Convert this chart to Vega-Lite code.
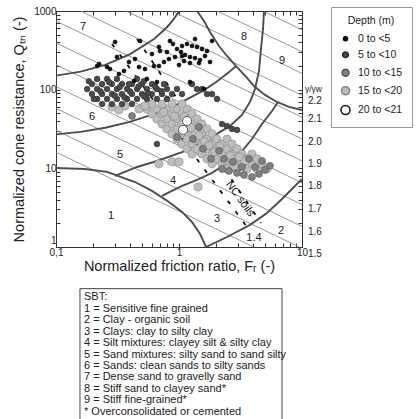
{
  "$schema": "https://vega.github.io/schema/vega-lite/v6.json",
  "padding": {"left": 11, "top": 6, "right": 0, "bottom": 0},
  "background": "white",
  "config": {
    "view": {"stroke": null},
    "font": "Liberation Sans",
    "axis": {"domainColor": "#333", "domainWidth": 1, "tickColor": "#333", "labelColor": "#222", "labelFont": "Liberation Sans", "labelFontSize": 10, "titleFont": "Liberation Sans", "titleFontSize": 14.5, "titleFontWeight": "normal", "titleColor": "#222", "grid": false, "labelOverlap": false, "labelFlush": false},
    "legend": {"orient": "none", "legendX": 275, "legendY": -4, "titleFont": "Liberation Sans", "titleFontSize": 10.5, "titleFontWeight": "normal", "titleColor": "#222", "titleAnchor": "middle", "labelFont": "Liberation Sans", "labelFontSize": 10.5, "labelColor": "#222", "strokeColor": "#999", "padding": 9, "rowPadding": 4, "titlePadding": 7, "labelOffset": 7, "symbolType": "circle"}
  },
  "datasets": {
    "gamma": [
      {"g":"1.4","F":0.1,"Q":16.05},{"g":"1.4","F":4.05,"Q":1},
      {"g":"1.5","F":0.1,"Q":30.43},{"g":"1.5","F":9.5,"Q":1},
      {"g":"1.6","F":0.1,"Q":57.69},{"g":"1.6","F":10,"Q":1.824},
      {"g":"1.7","F":0.1,"Q":109.4},{"g":"1.7","F":10,"Q":3.459},
      {"g":"1.8","F":0.1,"Q":207.4},{"g":"1.8","F":10,"Q":6.557},
      {"g":"1.9","F":0.1,"Q":393.0},{"g":"1.9","F":10,"Q":12.43},
      {"g":"2.0","F":0.1,"Q":745.2},{"g":"2.0","F":10,"Q":23.57},
      {"g":"2.1","F":0.1585,"Q":1000},{"g":"2.1","F":10,"Q":44.67},
      {"g":"2.2","F":0.3718,"Q":1000},{"g":"2.2","F":10,"Q":84.70},
      {"g":"2.3","F":0.8724,"Q":1000},{"g":"2.3","F":10,"Q":160.6},
      {"g":"2.4","F":2.047,"Q":1000},{"g":"2.4","F":10,"Q":304.3},
      {"g":"2.5","F":4.802,"Q":1000},{"g":"2.5","F":10,"Q":576.9}
    ],
    "bounds": [
      {"id":"L1","F":0.1,"Q":150.9},{"id":"L1","F":0.1585,"Q":169.5},{"id":"L1","F":0.2512,"Q":207},{"id":"L1","F":0.3981,"Q":280.8},{"id":"L1","F":0.631,"Q":444.6},{"id":"L1","F":0.794,"Q":617.3},{"id":"L1","F":0.891,"Q":760},{"id":"L1","F":1.0,"Q":983.5},{"id":"L1","F":1.0065,"Q":1000},
      {"id":"L2","F":0.1,"Q":27.0},{"id":"L2","F":0.1585,"Q":29.1},{"id":"L2","F":0.2512,"Q":32.8},{"id":"L2","F":0.3981,"Q":39.0},{"id":"L2","F":0.631,"Q":49.2},{"id":"L2","F":1.0,"Q":66.4},{"id":"L2","F":1.585,"Q":98.1},{"id":"L2","F":1.995,"Q":124.3},{"id":"L2","F":2.512,"Q":163.6},{"id":"L2","F":2.818,"Q":191},{"id":"L2","F":2.92,"Q":200},
      {"id":"EL","F":1.401,"Q":1000},{"id":"EL","F":1.597,"Q":747},{"id":"EL","F":1.787,"Q":541},{"id":"EL","F":2.114,"Q":359},{"id":"EL","F":2.456,"Q":268},{"id":"EL","F":2.962,"Q":194},{"id":"EL","F":3.571,"Q":141},{"id":"EL","F":4.07,"Q":111},{"id":"EL","F":5.0,"Q":85.7},{"id":"EL","F":6.26,"Q":69.8},{"id":"EL","F":7.84,"Q":60.3},{"id":"EL","F":10,"Q":55.2},
      {"id":"Z1","F":0.1,"Q":10.1},{"id":"Z1","F":0.172,"Q":9.8},{"id":"Z1","F":0.26,"Q":9.0},{"id":"Z1","F":0.439,"Q":6.7},{"id":"Z1","F":0.603,"Q":5.16},{"id":"Z1","F":0.829,"Q":3.74},{"id":"Z1","F":1.058,"Q":2.79},{"id":"Z1","F":1.275,"Q":2.08},{"id":"Z1","F":1.48,"Q":1.47},{"id":"Z1","F":1.66,"Q":1.0},
      {"id":"C","F":0.302,"Q":8.01},{"id":"C","F":0.456,"Q":10.4},{"id":"C","F":0.662,"Q":12.4},{"id":"C","F":1.058,"Q":16.1},{"id":"C","F":1.689,"Q":23.0},{"id":"C","F":2.598,"Q":34.6},{"id":"C","F":3.252,"Q":47.7},{"id":"C","F":3.778,"Q":69.8},{"id":"C","F":4.15,"Q":102},{"id":"C","F":4.47,"Q":173},{"id":"C","F":4.64,"Q":329},{"id":"C","F":4.82,"Q":591},{"id":"C","F":4.91,"Q":1000},
      {"id":"D","F":0.727,"Q":4.46},{"id":"D","F":1.058,"Q":5.97},{"id":"D","F":1.401,"Q":7.12},{"id":"D","F":1.855,"Q":8.75},{"id":"D","F":2.456,"Q":11.7},{"id":"D","F":3.252,"Q":16.6},{"id":"D","F":3.921,"Q":23.6},{"id":"D","F":4.728,"Q":36.6},{"id":"D","F":5.701,"Q":53.6},{"id":"D","F":6.38,"Q":69.8},
      {"id":"E","F":1.66,"Q":1.0},{"id":"E","F":2.456,"Q":1.34},{"id":"E","F":3.78,"Q":1.91},{"id":"E","F":5.19,"Q":2.71},{"id":"E","F":6.88,"Q":4.08},{"id":"E","F":10,"Q":7.33}
    ],
    "nc": [
      {"id":"A","F":0.456,"Q":441},{"id":"A","F":4.64,"Q":2.02},
      {"id":"B","F":0.285,"Q":381},{"id":"B","F":3.571,"Q":1.80}
    ],
    "pts": [
      {"depth":"15 to <20","F":0.549,"Q":56.8},{"depth":"15 to <20","F":0.603,"Q":49.1},{"depth":"15 to <20","F":0.662,"Q":56.8},{"depth":"15 to <20","F":0.662,"Q":42.4},{"depth":"15 to <20","F":0.727,"Q":49.1},{"depth":"15 to <20","F":0.727,"Q":36.6},{"depth":"15 to <20","F":0.798,"Q":56.8},{"depth":"15 to <20","F":0.798,"Q":42.4},{"depth":"15 to <20","F":0.798,"Q":31.7},{"depth":"15 to <20","F":0.877,"Q":49.1},{"depth":"15 to <20","F":0.877,"Q":36.6},{"depth":"15 to <20","F":0.877,"Q":27.4},{"depth":"15 to <20","F":0.963,"Q":56.8},{"depth":"15 to <20","F":0.963,"Q":42.4},{"depth":"15 to <20","F":0.963,"Q":31.7},{"depth":"15 to <20","F":0.963,"Q":23.6},{"depth":"15 to <20","F":1.058,"Q":49.1},{"depth":"15 to <20","F":1.058,"Q":36.6},{"depth":"15 to <20","F":1.058,"Q":27.4},{"depth":"15 to <20","F":1.058,"Q":20.4},{"depth":"15 to <20","F":1.162,"Q":56.8},{"depth":"15 to <20","F":1.162,"Q":42.4},{"depth":"15 to <20","F":1.162,"Q":31.7},{"depth":"15 to <20","F":1.162,"Q":23.6},{"depth":"15 to <20","F":1.162,"Q":17.7},{"depth":"15 to <20","F":1.276,"Q":49.1},{"depth":"15 to <20","F":1.276,"Q":36.6},{"depth":"15 to <20","F":1.276,"Q":27.4},{"depth":"15 to <20","F":1.276,"Q":20.4},{"depth":"15 to <20","F":1.276,"Q":15.2},{"depth":"15 to <20","F":1.401,"Q":42.4},{"depth":"15 to <20","F":1.401,"Q":31.7},{"depth":"15 to <20","F":1.401,"Q":23.6},{"depth":"15 to <20","F":1.401,"Q":17.7},{"depth":"15 to <20","F":1.538,"Q":36.6},{"depth":"15 to <20","F":1.538,"Q":27.4},{"depth":"15 to <20","F":1.538,"Q":20.4},{"depth":"15 to <20","F":1.538,"Q":15.2},{"depth":"15 to <20","F":1.689,"Q":31.7},{"depth":"15 to <20","F":1.689,"Q":23.6},{"depth":"15 to <20","F":1.689,"Q":17.7},{"depth":"15 to <20","F":1.689,"Q":13.2},{"depth":"15 to <20","F":1.855,"Q":27.4},{"depth":"15 to <20","F":1.855,"Q":20.4},{"depth":"15 to <20","F":1.855,"Q":15.2},{"depth":"15 to <20","F":1.855,"Q":11.4},{"depth":"15 to <20","F":2.037,"Q":23.6},{"depth":"15 to <20","F":2.037,"Q":17.7},{"depth":"15 to <20","F":2.037,"Q":13.2},{"depth":"15 to <20","F":2.237,"Q":20.4},{"depth":"15 to <20","F":2.237,"Q":15.2},{"depth":"15 to <20","F":2.237,"Q":11.4},{"depth":"15 to <20","F":2.456,"Q":23.6},{"depth":"15 to <20","F":2.456,"Q":17.7},{"depth":"15 to <20","F":2.456,"Q":13.2},{"depth":"15 to <20","F":2.456,"Q":9.82},{"depth":"15 to <20","F":2.697,"Q":20.4},{"depth":"15 to <20","F":2.697,"Q":15.2},{"depth":"15 to <20","F":2.697,"Q":11.4},{"depth":"15 to <20","F":2.962,"Q":17.7},{"depth":"15 to <20","F":2.962,"Q":13.2},{"depth":"15 to <20","F":2.962,"Q":9.82},{"depth":"15 to <20","F":3.252,"Q":15.2},{"depth":"15 to <20","F":3.252,"Q":11.4},{"depth":"15 to <20","F":3.571,"Q":13.2},{"depth":"15 to <20","F":3.571,"Q":9.82},{"depth":"15 to <20","F":3.921,"Q":15.2},{"depth":"15 to <20","F":3.921,"Q":11.4},{"depth":"15 to <20","F":4.306,"Q":13.2},{"depth":"15 to <20","F":4.306,"Q":9.82},{"depth":"15 to <20","F":4.728,"Q":11.4},{"depth":"15 to <20","F":5.192,"Q":9.82},
      {"depth":"15 to <20","F":0.727,"Q":65.8},{"depth":"15 to <20","F":0.877,"Q":65.8},{"depth":"15 to <20","F":1.058,"Q":65.8},{"depth":"15 to <20","F":0.603,"Q":65.8},{"depth":"15 to <20","F":0.285,"Q":60.2},{"depth":"15 to <20","F":0.325,"Q":55.2},{"depth":"15 to <20","F":0.364,"Q":62.1},{"depth":"15 to <20","F":0.473,"Q":56.8},{"depth":"15 to <20","F":0.529,"Q":62.1},{"depth":"15 to <20","F":0.687,"Q":11.4},{"depth":"15 to <20","F":0.877,"Q":12.1},{"depth":"15 to <20","F":1.0,"Q":12.1},{"depth":"15 to <20","F":1.428,"Q":5.8},
      {"depth":"15 to <20","F":1.10,"Q":45},{"depth":"15 to <20","F":1.35,"Q":29},{"depth":"15 to <20","F":1.6,"Q":22},{"depth":"15 to <20","F":1.95,"Q":16.2},{"depth":"15 to <20","F":2.35,"Q":12.6},{"depth":"15 to <20","F":2.8,"Q":10.8},{"depth":"15 to <20","F":3.4,"Q":12.5},{"depth":"15 to <20","F":1.25,"Q":33},{"depth":"15 to <20","F":1.75,"Q":19.5},{"depth":"15 to <20","F":2.6,"Q":14.5},{"depth":"15 to <20","F":1.45,"Q":26},{"depth":"15 to <20","F":0.92,"Q":46},{"depth":"15 to <20","F":0.75,"Q":52},{"depth":"15 to <20","F":2.15,"Q":19},{"depth":"15 to <20","F":3.1,"Q":14},
      {"depth":"10 to <15","F":0.415,"Q":46.3},{"depth":"10 to <15","F":2.237,"Q":9.82},{"depth":"10 to <15","F":2.549,"Q":9.26},{"depth":"10 to <15","F":2.962,"Q":8.74},{"depth":"10 to <15","F":3.376,"Q":8.25},{"depth":"10 to <15","F":3.921,"Q":7.77},{"depth":"10 to <15","F":4.47,"Q":8.49},{"depth":"10 to <15","F":5.0,"Q":9.54},{"depth":"10 to <15","F":5.49,"Q":10.75},{"depth":"10 to <15","F":4.148,"Q":10.41},{"depth":"10 to <15","F":3.252,"Q":10.41},{"depth":"10 to <15","F":2.748,"Q":12.08},{"depth":"10 to <15","F":1.821,"Q":13.2},{"depth":"10 to <15","F":1.567,"Q":17.7},{"depth":"10 to <15","F":2.114,"Q":16.7},{"depth":"10 to <15","F":1.3,"Q":23.6},{"depth":"10 to <15","F":0.963,"Q":25.0},{"depth":"10 to <15","F":3.707,"Q":13.2},{"depth":"10 to <15","F":4.728,"Q":12.4},{"depth":"10 to <15","F":2.322,"Q":13.2},{"depth":"10 to <15","F":1.454,"Q":33.6},
      {"depth":"5 to <10","F":0.179,"Q":102},{"depth":"5 to <10","F":0.196,"Q":118},{"depth":"5 to <10","F":0.196,"Q":88.1},{"depth":"5 to <10","F":0.216,"Q":137},{"depth":"5 to <10","F":0.216,"Q":102},{"depth":"5 to <10","F":0.216,"Q":76.2},{"depth":"5 to <10","F":0.237,"Q":118},{"depth":"5 to <10","F":0.237,"Q":88.1},{"depth":"5 to <10","F":0.237,"Q":65.8},{"depth":"5 to <10","F":0.26,"Q":137},{"depth":"5 to <10","F":0.26,"Q":102},{"depth":"5 to <10","F":0.26,"Q":76.2},{"depth":"5 to <10","F":0.285,"Q":118},{"depth":"5 to <10","F":0.285,"Q":88.1},{"depth":"5 to <10","F":0.285,"Q":65.8},{"depth":"5 to <10","F":0.313,"Q":137},{"depth":"5 to <10","F":0.313,"Q":102},{"depth":"5 to <10","F":0.313,"Q":76.2},{"depth":"5 to <10","F":0.344,"Q":118},{"depth":"5 to <10","F":0.344,"Q":88.1},{"depth":"5 to <10","F":0.344,"Q":65.8},{"depth":"5 to <10","F":0.378,"Q":102},{"depth":"5 to <10","F":0.378,"Q":76.2},{"depth":"5 to <10","F":0.415,"Q":118},{"depth":"5 to <10","F":0.415,"Q":88.1},{"depth":"5 to <10","F":0.415,"Q":65.8},{"depth":"5 to <10","F":0.456,"Q":137},{"depth":"5 to <10","F":0.456,"Q":102},{"depth":"5 to <10","F":0.456,"Q":76.2},{"depth":"5 to <10","F":0.5,"Q":118},{"depth":"5 to <10","F":0.5,"Q":88.1},{"depth":"5 to <10","F":0.549,"Q":102},{"depth":"5 to <10","F":0.549,"Q":76.2},{"depth":"5 to <10","F":0.603,"Q":118},{"depth":"5 to <10","F":0.603,"Q":88.1},{"depth":"5 to <10","F":0.662,"Q":102},{"depth":"5 to <10","F":0.662,"Q":76.2},{"depth":"5 to <10","F":0.727,"Q":88.1},{"depth":"5 to <10","F":0.798,"Q":102},{"depth":"5 to <10","F":0.798,"Q":76.2},{"depth":"5 to <10","F":0.877,"Q":88.1},{"depth":"5 to <10","F":0.963,"Q":102},{"depth":"5 to <10","F":1.058,"Q":88.1},
      {"depth":"5 to <10","F":1.276,"Q":118},{"depth":"5 to <10","F":1.401,"Q":102},{"depth":"5 to <10","F":1.538,"Q":102},{"depth":"5 to <10","F":1.689,"Q":88.1},{"depth":"5 to <10","F":1.855,"Q":88.1},{"depth":"5 to <10","F":2.037,"Q":76.2},{"depth":"5 to <10","F":2.237,"Q":36.6},{"depth":"5 to <10","F":2.456,"Q":34.5},{"depth":"5 to <10","F":2.697,"Q":31.7},{"depth":"5 to <10","F":2.962,"Q":30.8},
      {"depth":"5 to <10","F":0.662,"Q":20.4},{"depth":"5 to <10","F":0.185,"Q":128},{"depth":"5 to <10","F":0.27,"Q":125},{"depth":"5 to <10","F":0.519,"Q":129},{"depth":"5 to <10","F":0.392,"Q":118},{"depth":"5 to <10","F":0.755,"Q":118},{"depth":"5 to <10","F":0.203,"Q":76.2},{"depth":"5 to <10","F":0.23,"Q":95},{"depth":"5 to <10","F":0.33,"Q":108},{"depth":"5 to <10","F":0.40,"Q":95},{"depth":"5 to <10","F":0.47,"Q":110},{"depth":"5 to <10","F":0.56,"Q":90},{"depth":"5 to <10","F":0.64,"Q":110},{"depth":"5 to <10","F":0.72,"Q":96},{"depth":"5 to <10","F":0.30,"Q":84},{"depth":"5 to <10","F":0.36,"Q":80},{"depth":"5 to <10","F":0.52,"Q":82},
      {"depth":"20 to <21","F":1.162,"Q":40.0},{"depth":"20 to <21","F":1.078,"Q":30.8},
      {"depth":"0 to <5","F":0.302,"Q":404},{"depth":"0 to <5","F":0.482,"Q":416},{"depth":"0 to <5","F":0.845,"Q":416},{"depth":"0 to <5","F":0.687,"Q":349},{"depth":"0 to <5","F":0.603,"Q":284},{"depth":"0 to <5","F":0.439,"Q":245},{"depth":"0 to <5","F":0.392,"Q":225},{"depth":"0 to <5","F":0.357,"Q":173},{"depth":"0 to <5","F":0.473,"Q":194},{"depth":"0 to <5","F":0.529,"Q":183},{"depth":"0 to <5","F":0.687,"Q":200},{"depth":"0 to <5","F":0.755,"Q":225},{"depth":"0 to <5","F":0.828,"Q":245},{"depth":"0 to <5","F":0.928,"Q":260},{"depth":"0 to <5","F":1.058,"Q":268},{"depth":"0 to <5","F":0.224,"Q":212},{"depth":"0 to <5","F":0.275,"Q":183},{"depth":"0 to <5","F":0.325,"Q":158},{"depth":"0 to <5","F":0.431,"Q":129},{"depth":"0 to <5","F":1.058,"Q":359},{"depth":"0 to <5","F":1.162,"Q":381},{"depth":"0 to <5","F":1.276,"Q":359},{"depth":"0 to <5","F":1.401,"Q":349},{"depth":"0 to <5","F":1.538,"Q":329},{"depth":"0 to <5","F":1.689,"Q":310},{"depth":"0 to <5","F":1.038,"Q":301},{"depth":"0 to <5","F":1.119,"Q":276},{"depth":"0 to <5","F":1.229,"Q":260},{"depth":"0 to <5","F":1.35,"Q":252},{"depth":"0 to <5","F":1.482,"Q":238},{"depth":"0 to <5","F":1.627,"Q":268},{"depth":"0 to <5","F":1.098,"Q":231},{"depth":"0 to <5","F":1.229,"Q":218},{"depth":"0 to <5","F":1.454,"Q":218},{"depth":"0 to <5","F":1.787,"Q":225},{"depth":"0 to <5","F":1.0,"Q":206},{"depth":"0 to <5","F":0.798,"Q":301},{"depth":"0 to <5","F":0.963,"Q":329},{"depth":"0 to <5","F":0.7,"Q":310},{"depth":"0 to <5","F":0.216,"Q":200},{"depth":"0 to <5","F":0.26,"Q":194},{"depth":"0 to <5","F":0.626,"Q":200},{"depth":"0 to <5","F":1.229,"Q":125},{"depth":"0 to <5","F":0.662,"Q":125},{"depth":"0 to <5","F":1.597,"Q":102},{"depth":"0 to <5","F":1.855,"Q":416},{"depth":"0 to <5","F":1.35,"Q":441},{"depth":"0 to <5","F":0.894,"Q":381},{"depth":"0 to <5","F":0.549,"Q":137},{"depth":"0 to <5","F":0.313,"Q":260}
    ],
    "zones": [
      {"label":"7","F":0.166,"Q":627},{"label":"8","F":3.38,"Q":468},{"label":"9","F":6.88,"Q":232},{"label":"6","F":0.196,"Q":45.0},{"label":"5","F":0.331,"Q":14.8},{"label":"4","F":0.894,"Q":6.92},{"label":"3","F":2.037,"Q":2.28},{"label":"2","F":6.75,"Q":1.60},{"label":"1","F":0.28,"Q":2.48},{"label":"1.4","F":4.07,"Q":1.31}
    ],
    "glabels": [
      {"label":"2.2","F":10,"Q":71.8},{"label":"2.1","F":10,"Q":42.4},{"label":"2.0","F":10,"Q":21.6},{"label":"1.9","F":10,"Q":11.4},{"label":"1.8","F":10,"Q":5.97},{"label":"1.7","F":10,"Q":3.05},{"label":"1.6","F":10,"Q":1.56},{"label":"1.5","F":10,"Q":0.817}
    ],
    "sbt": [
      {"row":0,"text":"SBT:"},
      {"row":1,"text":"1 = Sensitive fine grained"},
      {"row":2,"text":"2 = Clay - organic soil"},
      {"row":3,"text":"3 = Clays: clay to silty clay"},
      {"row":4,"text":"4 = Silt mixtures: clayey silt & silty clay"},
      {"row":5,"text":"5 = Sand mixtures: silty sand to sand silty"},
      {"row":6,"text":"6 = Sands: clean sands to silty sands"},
      {"row":7,"text":"7 = Dense sand to gravelly sand"},
      {"row":8,"text":"8 = Stiff sand to clayey sand*"},
      {"row":9,"text":"9 = Stiff fine-grained*"},
      {"row":10,"text":"* Overconsolidated or cemented"}
    ]
  },
  "vconcat": [
    {
      "width": 246,
      "height": 236,
      "layer": [
        {
          "data": {"name": "gamma"},
          "mark": {"type": "line", "stroke": "#8c8c8c", "strokeWidth": 0.9, "clip": true},
          "encoding": {
            "x": {"field": "F", "type": "quantitative", "scale": {"type": "log", "domain": [0.1, 10], "nice": false},
                  "axis": {"orient": "bottom", "values": [0.1,0.2,0.3,0.4,0.5,0.6,0.7,0.8,0.9,1,2,3,4,5,6,7,8,9,10], "labelExpr": "datum.value == 0.1 ? '0,1' : datum.value == 1 ? '1' : datum.value == 10 ? '10' : ''", "tickSize": -4, "labelPadding": 4, "title": "Normalized friction ratio, Fᵣ (-)", "titlePadding": 2}},
            "y": {"field": "Q", "type": "quantitative", "scale": {"type": "log", "domain": [1, 1000], "nice": false},
                  "axis": {"orient": "left", "values": [1,2,3,4,5,6,7,8,9,10,20,30,40,50,60,70,80,90,100,200,300,400,500,600,700,800,900,1000], "labelExpr": "datum.value == 1 ? '1' : datum.value == 10 ? '10' : datum.value == 100 ? '100' : datum.value == 1000 ? '1000' : ''", "labelBaseline": {"condition": {"test": "datum.value == 1", "value": "bottom"}, "value": "middle"}, "labelOffset": {"condition": {"test": "datum.value == 1", "value": -2}, "value": 0}, "tickSize": -4, "labelPadding": 4, "title": "Normalized cone resistance, Qₜₙ (-)", "titlePadding": 7}},
            "detail": {"field": "g"}
          }
        },
        {
          "data": {"name": "bounds"},
          "mark": {"type": "line", "stroke": "#4d4d4d", "strokeWidth": 1.9, "clip": true},
          "encoding": {
            "x": {"field": "F", "type": "quantitative", "axis": null},
            "y": {"field": "Q", "type": "quantitative", "axis": null},
            "detail": {"field": "id"}
          }
        },
        {
          "data": {"name": "nc"},
          "mark": {"type": "line", "stroke": "#111", "strokeWidth": 1.8, "strokeDash": [4, 9], "clip": true},
          "encoding": {
            "x": {"field": "F", "type": "quantitative", "axis": null},
            "y": {"field": "Q", "type": "quantitative", "axis": null},
            "detail": {"field": "id"}
          }
        },
        {
          "data": {"name": "pts"},
          "mark": {"type": "point", "shape": "circle", "filled": true, "opacity": 1, "strokeWidth": 0.6},
          "encoding": {
            "x": {"field": "F", "type": "quantitative", "axis": null},
            "y": {"field": "Q", "type": "quantitative", "axis": null},
            "fill": {"field": "depth", "type": "ordinal", "title": "Depth (m)", "scale": {"domain": ["0 to <5","5 to <10","10 to <15","15 to <20","20 to <21"], "range": ["#111111","#4a4a4a","#808080","#bdbdbd","#ffffff"]}},
            "stroke": {"field": "depth", "type": "ordinal", "title": "Depth (m)", "scale": {"domain": ["0 to <5","5 to <10","10 to <15","15 to <20","20 to <21"], "range": ["#000000","#2a2a2a","#555555","#858585","#111111"]}},
            "size": {"field": "depth", "type": "ordinal", "title": "Depth (m)", "scale": {"domain": ["0 to <5","5 to <10","10 to <15","15 to <20","20 to <21"], "range": [16, 81]}}
          }
        },
        {
          "data": {"name": "zones"},
          "mark": {"type": "text", "fontSize": 11, "color": "#222"},
          "encoding": {
            "x": {"field": "F", "type": "quantitative", "axis": null},
            "y": {"field": "Q", "type": "quantitative", "axis": null},
            "text": {"field": "label"}
          }
        },
        {
          "data": {"values": [{"label": "NC soils", "F": 3.13, "Q": 4.08}]},
          "mark": {"type": "text", "angle": 54, "fontSize": 11, "color": "#111"},
          "encoding": {
            "x": {"field": "F", "type": "quantitative", "axis": null},
            "y": {"field": "Q", "type": "quantitative", "axis": null},
            "text": {"field": "label"}
          }
        },
        {
          "data": {"name": "glabels"},
          "mark": {"type": "text", "align": "left", "dx": 6, "fontSize": 10, "color": "#222"},
          "encoding": {
            "x": {"field": "F", "type": "quantitative", "axis": null},
            "y": {"field": "Q", "type": "quantitative", "axis": null},
            "text": {"field": "label"}
          }
        },
        {
          "data": {"values": [{"label": "γ/γw", "F": 10, "Q": 102}]},
          "mark": {"type": "text", "align": "left", "dx": 3, "fontSize": 8.5, "color": "#222"},
          "encoding": {
            "x": {"field": "F", "type": "quantitative", "axis": null},
            "y": {"field": "Q", "type": "quantitative", "axis": null},
            "text": {"field": "label"}
          }
        },
        {
          "data": {"name": "zones"},
          "mark": {"type": "point", "opacity": 0},
          "encoding": {
            "x": {"field": "F", "type": "quantitative", "axis": {"orient": "top", "values": [0.1,0.2,0.3,0.4,0.5,0.6,0.7,0.8,0.9,1,2,3,4,5,6,7,8,9,10], "labels": false, "title": null, "tickSize": -4}},
            "y": {"field": "Q", "type": "quantitative", "axis": {"orient": "right", "values": [1,2,3,4,5,6,7,8,9,10,20,30,40,50,60,70,80,90,100,200,300,400,500,600,700,800,900,1000], "labels": false, "title": null, "tickSize": -4}}
          }
        }
      ],
      "resolve": {"axis": {"x": "independent", "y": "independent"}}
    },
    {
      "width": 226,
      "height": 137,
      "layer": [
        {
          "data": {"values": [{}]},
          "mark": {"type": "rect", "fill": "white", "stroke": "#444", "strokeWidth": 1},
          "encoding": {
            "x": {"datum": 0.106, "type": "quantitative", "scale": {"domain": [0, 1]}, "axis": null},
            "x2": {"datum": 1},
            "y": {"datum": -0.766, "type": "quantitative", "scale": {"domain": [-0.766, 10.894], "reverse": true}, "axis": null},
            "y2": {"datum": 11.6}
          }
        },
        {
          "data": {"name": "sbt"},
          "mark": {"type": "text", "align": "left", "baseline": "middle", "fontSize": 11, "color": "#222"},
          "encoding": {
            "x": {"datum": 0.124, "type": "quantitative", "axis": null},
            "y": {"field": "row", "type": "quantitative", "axis": null},
            "text": {"field": "text"}
          }
        }
      ]
    }
  ],
  "spacing": 13,
  "resolve": {"scale": {"x": "independent", "y": "independent"}}
}
